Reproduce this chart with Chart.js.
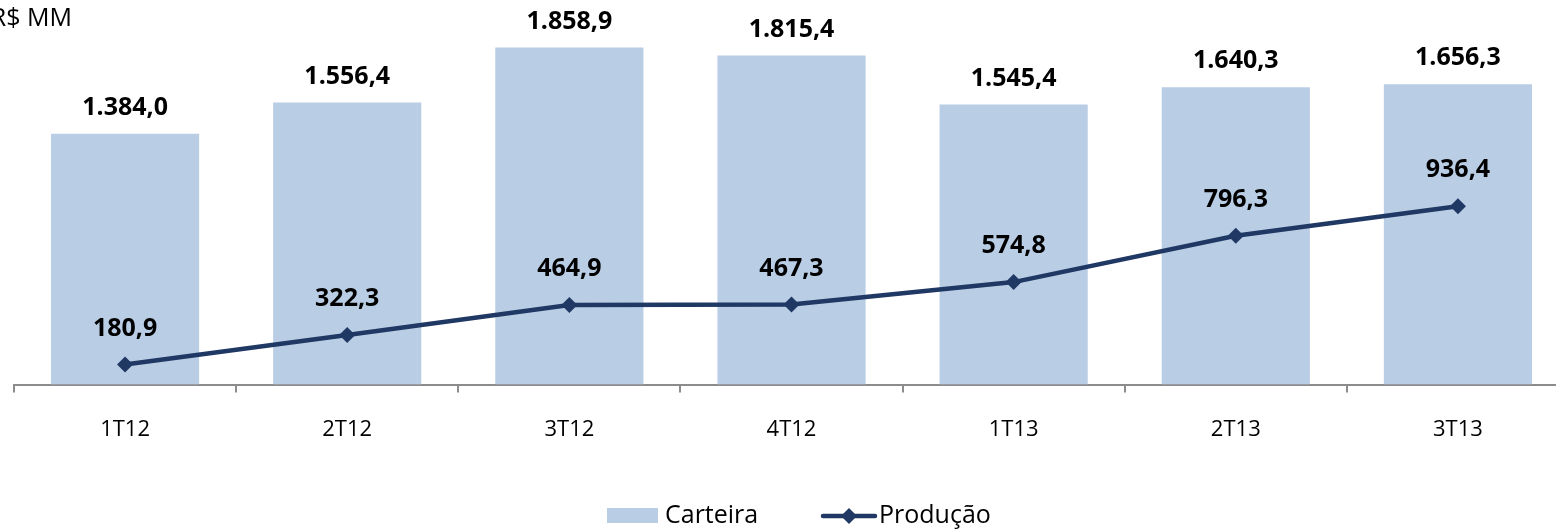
<!DOCTYPE html>
<html>
<head>
<meta charset="utf-8">
<script src="https://cdn.jsdelivr.net/npm/chart.js@4/dist/chart.umd.min.js"></script>
<style>
html,body{margin:0;padding:0;background:#fff;overflow:hidden;width:1556px;height:532px;}
#c{display:block;}
</style>
</head>
<body>
<canvas id="c" width="1580" height="532"></canvas>
<script>
const categories = ['1T12','2T12','3T12','4T12','1T13','2T13','3T13'];
const carteira = [1384.0,1556.4,1858.9,1815.4,1545.4,1640.3,1656.3];
const producao = [180.9,322.3,464.9,467.3,574.8,796.3,936.4];
const seriesNames = ['Carteira','Produção'];
const unitLabel = 'R$ MM';

const BAR_COLOR = '#B9CDE5';
const LINE_COLOR = '#1F3864';
const FONT = "'Open Sans', 'Liberation Sans', sans-serif";

function fmt(v){
  const neg = v < 0; v = Math.abs(v);
  let s = v.toFixed(1);
  let [i,d] = s.split('.');
  i = i.replace(/\B(?=(\d{3})+(?!\d))/g,'.');
  return (neg?'-':'') + i + ',' + d;
}

const valueLabels = {
  id:'valueLabels',
  afterDatasetsDraw(chart){
    const ctx = chart.ctx;
    ctx.save();
    ctx.fillStyle = '#000';
    ctx.font = 'bold 25px ' + FONT;
    ctx.textAlign = 'center';
    ctx.textBaseline = 'middle';
    chart.data.datasets.forEach((ds, di) => {
      const meta = chart.getDatasetMeta(di);
      meta.data.forEach((el, i) => {
        const off = ds.type === 'line' ? 36 : 26;
        ctx.fillText(fmt(ds.data[i]), el.x, el.y - off);
      });
    });
    ctx.restore();
  },
  afterDraw(chart){
    const ctx = chart.ctx;
    ctx.save();
    ctx.fillStyle = '#000';
    ctx.font = '25px ' + FONT;
    ctx.textBaseline = 'middle';
    ctx.textAlign = 'right';
    ctx.fillText(unitLabel, 72, 19);
    // legend
    ctx.textAlign = 'left';
    const ly = 516;
    ctx.fillStyle = BAR_COLOR;
    ctx.fillRect(607, 508, 51, 15);
    ctx.fillStyle = '#000';
    ctx.fillText(seriesNames[0], 665, ly);
    ctx.strokeStyle = LINE_COLOR;
    ctx.lineWidth = 4.5;
    ctx.lineCap = 'round';
    ctx.beginPath();
    ctx.moveTo(823, ly); ctx.lineTo(875, ly);
    ctx.stroke();
    ctx.fillStyle = LINE_COLOR;
    ctx.beginPath();
    ctx.moveTo(849, ly-8); ctx.lineTo(857, ly); ctx.lineTo(849, ly+8); ctx.lineTo(841, ly);
    ctx.closePath(); ctx.fill();
    ctx.fillStyle = '#000';
    ctx.fillText(seriesNames[1], 879, ly);
    ctx.restore();
  }
};

new Chart(document.getElementById('c'), {
  data: {
    labels: categories,
    datasets: [
      {
        type:'line', label: seriesNames[1], data: producao, yAxisID:'y2',
        borderColor: LINE_COLOR, backgroundColor: LINE_COLOR, borderWidth: 4.5,
        pointStyle:'rectRot', pointRadius: 8, pointBackgroundColor: LINE_COLOR,
        pointBorderColor: LINE_COLOR, pointBorderWidth: 0, tension: 0, order: 0
      },
      {
        type:'bar', label: seriesNames[0], data: carteira, yAxisID:'y',
        backgroundColor: BAR_COLOR, borderWidth: 0,
        barPercentage: 1, categoryPercentage: 0.667, order: 1
      }
    ]
  },
  options: {
    responsive:false, animation:false, devicePixelRatio:1,
    layout:{ padding:{ left:14, right:11, top:10, bottom:65 } },
    plugins:{ legend:{display:false}, tooltip:{enabled:false} },
    scales:{
      x:{
        offset:true,
        grid:{ display:true, drawOnChartArea:false, drawTicks:true, tickLength:8, color:'#8c8c8c', lineWidth:2, offset:true },
        border:{ display:true, color:'#8c8c8c', width:2 },
        ticks:{ color:'#000', font:{ family:FONT, size:22 }, padding:24, maxRotation:0 }
      },
      y:{ display:false, min:0, max:2066 },
      y2:{ display:false, min:85.3, max:1873.9 }
    }
  },
  plugins:[valueLabels]
});
</script>
</body>
</html>
